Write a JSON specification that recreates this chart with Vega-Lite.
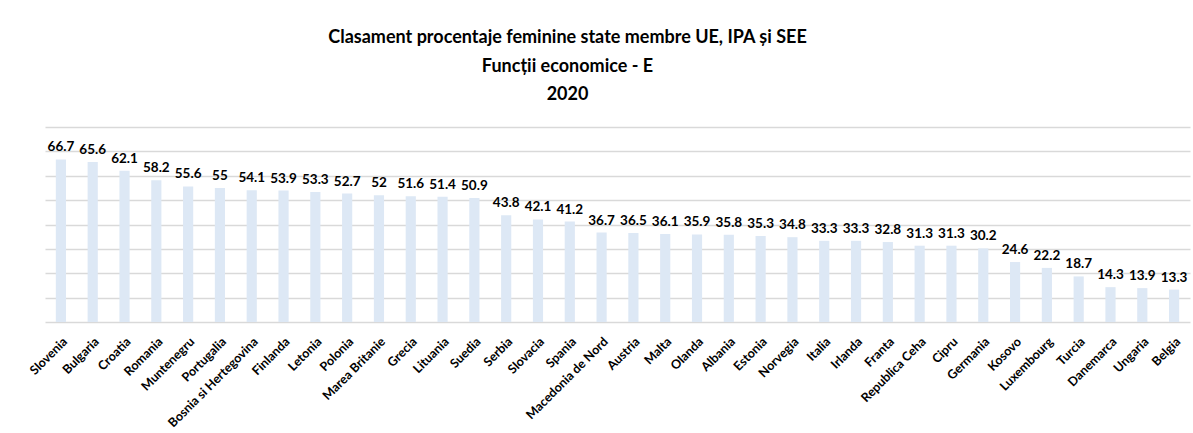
{
  "$schema": "https://vega.github.io/schema/vega-lite/v6.json",
  "width": 1145,
  "height": 195,
  "autosize": {"type": "none"},
  "padding": {"left": 45, "top": 127, "right": 3, "bottom": 111},
  "background": "white",
  "title": {
    "text": ["Clasament procentaje feminine state membre UE, IPA și SEE", "Funcții economice - E", "2020"],
    "font": "Lato",
    "fontSize": 18,
    "fontWeight": "bold",
    "color": "#000000",
    "lineHeight": 28.5,
    "anchor": "middle",
    "dx": -50,
    "offset": 23
  },
  "data": {
    "values": [
      {"tara": "Slovenia", "valoare": 66.7},
      {"tara": "Bulgaria", "valoare": 65.6},
      {"tara": "Croatia", "valoare": 62.1},
      {"tara": "Romania", "valoare": 58.2},
      {"tara": "Muntenegru", "valoare": 55.6},
      {"tara": "Portugalia", "valoare": 55},
      {"tara": "Bosnia si Hertegovina", "valoare": 54.1},
      {"tara": "Finlanda", "valoare": 53.9},
      {"tara": "Letonia", "valoare": 53.3},
      {"tara": "Polonia", "valoare": 52.7},
      {"tara": "Marea Britanie", "valoare": 52},
      {"tara": "Grecia", "valoare": 51.6},
      {"tara": "Lituania", "valoare": 51.4},
      {"tara": "Suedia", "valoare": 50.9},
      {"tara": "Serbia", "valoare": 43.8},
      {"tara": "Slovacia", "valoare": 42.1},
      {"tara": "Spania", "valoare": 41.2},
      {"tara": "Macedonia de Nord", "valoare": 36.7},
      {"tara": "Austria", "valoare": 36.5},
      {"tara": "Malta", "valoare": 36.1},
      {"tara": "Olanda", "valoare": 35.9},
      {"tara": "Albania", "valoare": 35.8},
      {"tara": "Estonia", "valoare": 35.3},
      {"tara": "Norvegia", "valoare": 34.8},
      {"tara": "Italia", "valoare": 33.3},
      {"tara": "Irlanda", "valoare": 33.3},
      {"tara": "Franta", "valoare": 32.8},
      {"tara": "Republica Ceha", "valoare": 31.3},
      {"tara": "Cipru", "valoare": 31.3},
      {"tara": "Germania", "valoare": 30.2},
      {"tara": "Kosovo", "valoare": 24.6},
      {"tara": "Luxembourg", "valoare": 22.2},
      {"tara": "Turcia", "valoare": 18.7},
      {"tara": "Danemarca", "valoare": 14.3},
      {"tara": "Ungaria", "valoare": 13.9},
      {"tara": "Belgia", "valoare": 13.3}
    ]
  },
  "encoding": {
    "x": {
      "field": "tara",
      "type": "nominal",
      "sort": null,
      "title": null,
      "scale": {"paddingInner": 0.68, "paddingOuter": 0.34},
      "axis": {
        "labelAngle": -45,
        "labelFont": "Lato",
        "labelFontSize": 12.5,
        "labelFontWeight": "bold",
        "labelColor": "#000000",
        "labelPadding": 13,
        "ticks": false,
        "domain": false,
        "grid": false
      }
    },
    "y": {
      "field": "valoare",
      "type": "quantitative",
      "title": null,
      "scale": {"domain": [0, 80], "nice": false},
      "axis": {
        "values": [0, 10, 20, 30, 40, 50, 60, 70, 80],
        "labels": false,
        "ticks": false,
        "domain": false,
        "grid": true,
        "gridColor": "#d9d9d9",
        "gridWidth": 1.3
      }
    }
  },
  "layer": [
    {
      "mark": {"type": "bar", "color": "#dde8f5"}
    },
    {
      "mark": {
        "type": "text",
        "font": "Lato",
        "fontSize": 13.5,
        "fontWeight": "bold",
        "color": "#000000",
        "baseline": "bottom",
        "dy": -5
      },
      "encoding": {
        "text": {"field": "valoare", "type": "quantitative"}
      }
    }
  ],
  "config": {
    "view": {"stroke": null}
  }
}
